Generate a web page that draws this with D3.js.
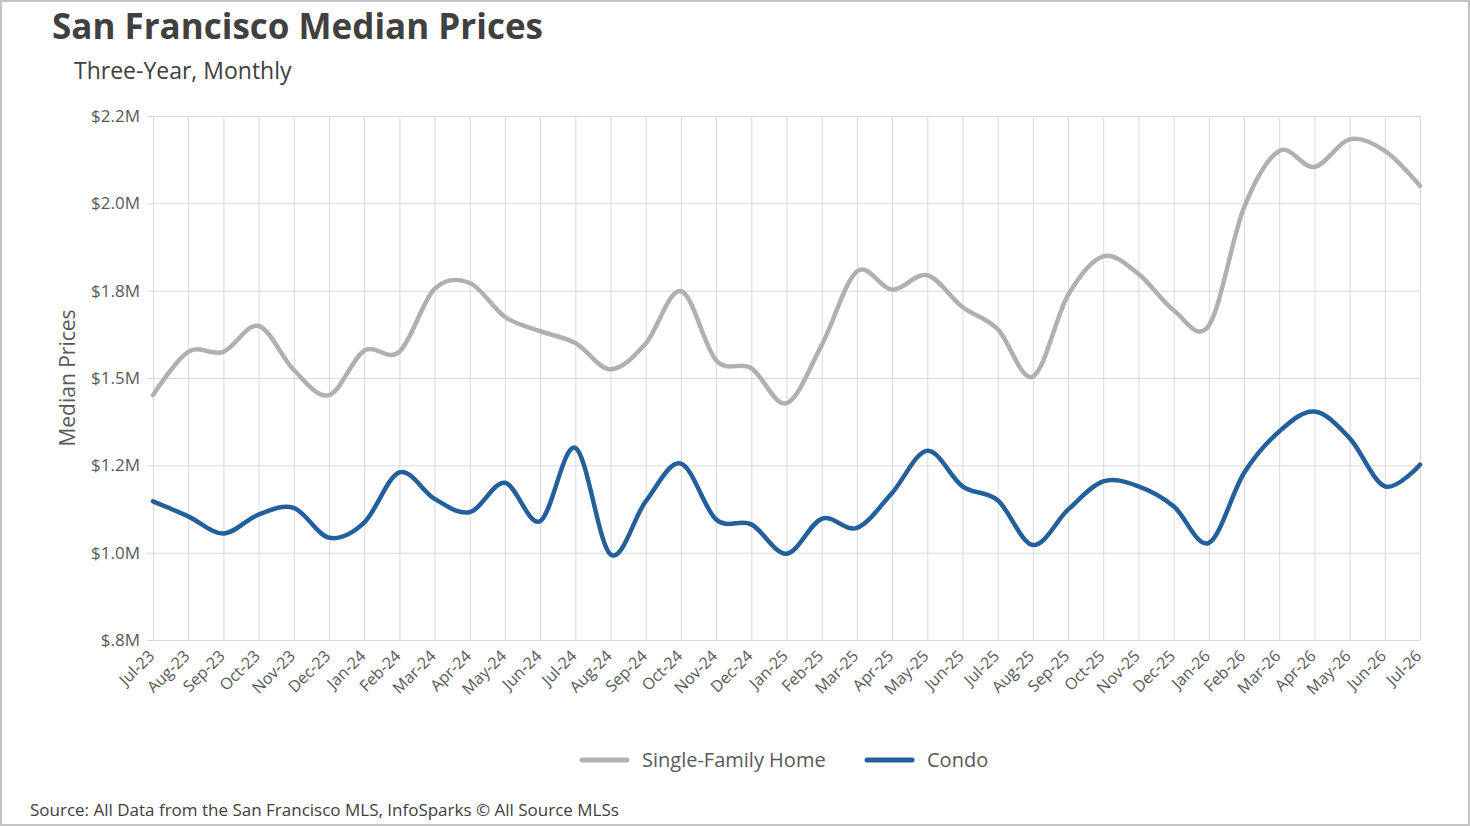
<!DOCTYPE html>
<html>
<head>
<meta charset="utf-8">
<script src="https://cdn.jsdelivr.net/npm/d3@7"></script>
<style>
  body { margin: 0; background: #fff; }
  text { font-family: "Open Sans", "Noto Sans", sans-serif; }
</style>
</head>
<body>
<svg id="svg1" width="1470" height="826"></svg>
<script>
// months on the x axis
var months = ["Jul-23","Aug-23","Sep-23","Oct-23","Nov-23","Dec-23",
  "Jan-24","Feb-24","Mar-24","Apr-24","May-24","Jun-24","Jul-24","Aug-24","Sep-24","Oct-24","Nov-24","Dec-24",
  "Jan-25","Feb-25","Mar-25","Apr-25","May-25","Jun-25","Jul-25","Aug-25","Sep-25","Oct-25","Nov-25","Dec-25",
  "Jan-26","Feb-26","Mar-26","Apr-26","May-26","Jun-26","Jul-26"];

// median prices (dollars)
var singleFamily = [1451000,1575000,1575000,1649000,1523000,1451000,
  1578000,1575000,1755000,1772000,1675000,1634000,1600000,1525000,1599000,1749000,1551000,1528000,
  1428000,1594000,1805000,1753000,1794000,1703000,1640000,1504000,1737000,1848000,1798000,1694000,
  1650000,1988000,2150000,2104000,2183000,2150000,2050000];

var condo = [1147000,1104000,1055000,1109000,1128000,1043000,
  1086000,1230000,1154000,1116000,1200000,1090000,1300000,995000,1147000,1255000,1095000,1081000,
  997000,1097000,1071000,1171000,1292000,1190000,1150000,1022000,1123000,1204000,1190000,1133000,
  1028000,1228000,1347000,1404000,1328000,1190000,1252000];

// y ticks and their labels as printed on the chart
var yTicks = [750000,1000000,1250000,1500000,1750000,2000000,2250000];
var yTickLabels = ["$.8M","$1.0M","$1.2M","$1.5M","$1.8M","$2.0M","$2.2M"];

var seriesNames = ["Single-Family Home","Condo"];
var seriesColors = ["#b0b0b0","#23609b"];

var width = document.getElementById('svg1').clientWidth;
var height = document.getElementById('svg1').clientHeight;

// plot box
var plotLeft = 153, plotRight = 1420, plotTop = 116, plotBottom = 640;

var svg = d3.select('svg');

// outer frame
svg.append('rect')
    .attr('x', 1).attr('y', 1)
    .attr('width', width - 2).attr('height', height - 2)
    .attr('fill', '#fff')
    .attr('stroke', '#c4c4c4')
    .attr('stroke-width', 2);

var x = d3.scalePoint().domain(months).range([plotLeft, plotRight]);
var y = d3.scaleLinear().domain([750000, 2250000]).range([plotBottom, plotTop]);

// horizontal grid + y labels
var yAxis = svg.append('g')
    .attr('transform', 'translate(' + (plotLeft - 6) + ',0)')
    .call(d3.axisLeft(y)
        .tickValues(yTicks)
        .tickFormat(function(d, i){ return yTickLabels[i]; })
        .tickSize(-(plotRight - plotLeft + 6))
        .tickPadding(7));
yAxis.select('.domain').remove();
yAxis.selectAll('line').attr('stroke', '#d9d9d9');
yAxis.selectAll('text')
    .attr('fill', '#595959')
    .style('font-size', '17px');

// vertical grid + month labels
var xAxis = svg.append('g')
    .attr('transform', 'translate(0,' + plotBottom + ')')
    .call(d3.axisBottom(x).tickSize(-(plotBottom - plotTop)).tickPadding(0));
xAxis.select('.domain').remove();
xAxis.selectAll('line').attr('stroke', '#d9d9d9');
xAxis.selectAll('text')
    .attr('fill', '#595959')
    .style('font-size', '16px')
    .attr('text-anchor', 'end')
    .attr('dy', '0.35em')
    .attr('transform', 'translate(-2,13) rotate(-45)');

// lines
var line = d3.line()
    .x(function(d, i){ return x(months[i]); })
    .y(function(d){ return y(d); })
    .curve(d3.curveCatmullRom.alpha(0));

[singleFamily, condo].forEach(function(s, i){
    svg.append('path')
        .datum(s)
        .attr('d', line)
        .attr('fill', 'none')
        .attr('stroke', seriesColors[i])
        .attr('stroke-width', 4.5)
        .attr('stroke-linecap', 'round')
        .attr('stroke-linejoin', 'round');
});

// titles
svg.append('text')
    .attr('x', 52).attr('y', 39)
    .attr('fill', '#404040')
    .style('font-size', '35px')
    .style('font-weight', 'bold')
    .text('San Francisco Median Prices');

svg.append('text')
    .attr('x', 74).attr('y', 79)
    .attr('fill', '#404040')
    .style('font-size', '23px')
    .text('Three-Year, Monthly');

svg.append('text')
    .attr('transform', 'translate(75,' + ((plotTop + plotBottom) / 2) + ') rotate(-90)')
    .attr('text-anchor', 'middle')
    .attr('fill', '#595959')
    .style('font-size', '21px')
    .text('Median Prices');

// legend
var legendX = [582, 867];
var legend = svg.selectAll('.legend')
    .data(seriesNames)
    .enter().append('g')
    .attr('class', 'legend')
    .attr('transform', function(d, i){ return 'translate(' + legendX[i] + ',760)'; });

legend.append('line')
    .attr('x1', 0).attr('x2', 45)
    .attr('stroke', function(d, i){ return seriesColors[i]; })
    .attr('stroke-width', 5)
    .attr('stroke-linecap', 'round');

legend.append('text')
    .attr('x', 60).attr('dy', '0.35em')
    .attr('fill', '#595959')
    .style('font-size', '20px')
    .text(function(d){ return d; });

// source
svg.append('text')
    .attr('x', 30).attr('y', 816)
    .attr('fill', '#404040')
    .style('font-size', '17px')
    .text('Source: All Data from the San Francisco MLS, InfoSparks \u00a9 All Source MLSs');
</script>
</body>
</html>
